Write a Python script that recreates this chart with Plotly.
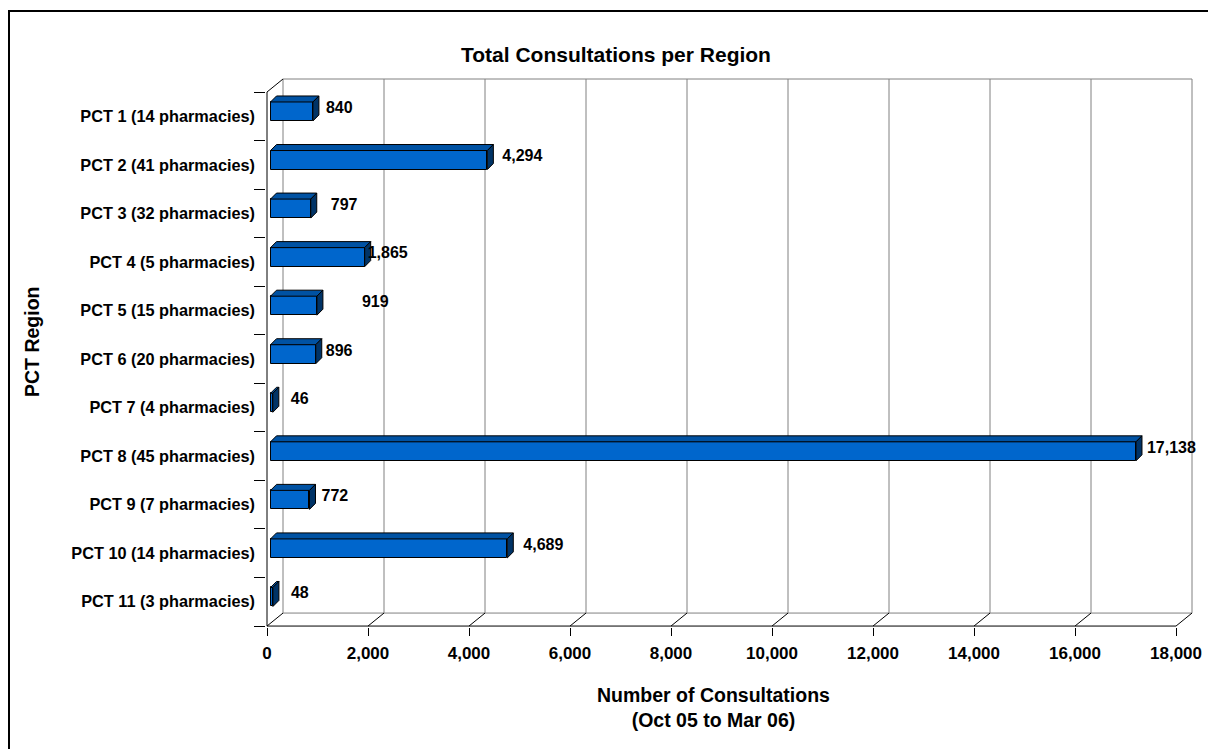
import plotly.graph_objects as go

# ---------------- data ----------------
categories = [
    "PCT 1 (14 pharmacies)", "PCT 2 (41 pharmacies)", "PCT 3 (32 pharmacies)",
    "PCT 4 (5 pharmacies)", "PCT 5 (15 pharmacies)", "PCT 6 (20 pharmacies)",
    "PCT 7 (4 pharmacies)", "PCT 8 (45 pharmacies)", "PCT 9 (7 pharmacies)",
    "PCT 10 (14 pharmacies)", "PCT 11 (3 pharmacies)",
]
consultations = [840, 4294, 797, 1865, 919, 896, 46, 17138, 772, 4689, 48]
x_ticks = [0, 2000, 4000, 6000, 8000, 10000, 12000, 14000, 16000, 18000]
x_tick_labels = ["0", "2,000", "4,000", "6,000", "8,000", "10,000",
                 "12,000", "14,000", "16,000", "18,000"]
chart_title = "Total Consultations per Region"
y_title = "PCT Region"
x_title = "Number of Consultations<br>(Oct 05 to Mar 06)"

# label nudges (pixels to the right of each bar's 3D side face)
label_gap_px = [7, 9, 14, -3, 39, 4, 12, 5, 6, 10, 12]

# ---------------- geometry (pixels) ----------------
OFF = 8                     # page body margin: figure pixel = page pixel - OFF
W, H = 1216 - OFF, 749 - OFF

def P(p):
    return p - OFF

PL, PR, PT, PB = P(266), P(1195), P(77), P(627)
FX0 = P(267)                # pixel of value 0 on the front plane
XMAX = x_ticks[-1]
XPX = 909.0 / XMAX          # px per unit
FY0 = P(92)                 # top of first category on the front plane
CPX = 48.55                 # px per category
NCAT = len(categories)

def ux(p):
    return p / XPX

def uy(p):
    return p / CPX

def vy(py):
    return (py - FY0) / CPX - 0.5

def paper_x(px):
    return (px - PL) / (PR - PL)

def paper_y(py):
    return (PB - py) / (PB - PT)

x_range = [(PL - FX0) / XPX, (PR - FX0) / XPX]
y_range = [vy(PB), vy(PT)]

WDX, WDY = ux(16), uy(13)     # wall depth
BX0 = ux(3.5)                 # bar front-face start
BOFF = uy(4.8)                # bar front face raised from category centre
BH = uy(19)                   # bar thickness
BDX, BDY = ux(6), uy(6)       # bar depth

FONT = "Liberation Sans, Arial, sans-serif"
FRONT_BLUE = "#0066CC"
TOP_BLUE = "#0052A3"
SIDE_BLUE = "#003366"
GRID = "#808080"

fig = go.Figure()

# ---------------- bars ----------------
ypos = list(range(NCAT))
fig.add_trace(go.Bar(
    y=[i - BOFF for i in ypos], x=consultations, base=BX0, width=BH,
    orientation="h",
    marker=dict(color=FRONT_BLUE, line=dict(color="black", width=1)),
    hoverinfo="skip", showlegend=False,
))

top_x, top_y, side_x, side_y = [], [], [], []
for i, v in enumerate(consultations):
    yc = i - BOFF
    yt, yb = yc - BH / 2, yc + BH / 2
    x0, x1 = BX0, BX0 + v
    top_x += [x0, x1, x1 + BDX, x0 + BDX, x0, None]
    top_y += [yt, yt, yt - BDY, yt - BDY, yt, None]
    side_x += [x1, x1, x1 + BDX, x1 + BDX, x1, None]
    side_y += [yt, yb, yb - BDY, yt - BDY, yt, None]

fig.add_trace(go.Scatter(x=top_x, y=top_y, mode="lines", fill="toself",
                         fillcolor=TOP_BLUE, line=dict(color="black", width=1),
                         hoverinfo="skip", showlegend=False))
fig.add_trace(go.Scatter(x=side_x, y=side_y, mode="lines", fill="toself",
                         fillcolor=SIDE_BLUE, line=dict(color="black", width=1),
                         hoverinfo="skip", showlegend=False))

# ---------------- data labels ----------------
lab_x = [BX0 + v + BDX + ux(g) for v, g in zip(consultations, label_gap_px)]
lab_y = [i - uy(7.5) for i in ypos]
fig.add_trace(go.Scatter(
    x=lab_x, y=lab_y, mode="text", text=[f"{v:,}" for v in consultations],
    textposition="middle right", cliponaxis=False,
    textfont=dict(family=FONT, size=16, color="black", weight="bold"),
    hoverinfo="skip", showlegend=False,
))

# ---------------- 3D walls / grid ----------------
shapes = []
def seg(x0, y0, x1, y1, color, width=1):
    shapes.append(dict(type="line", xref="x", yref="y", x0=x0, y0=y0, x1=x1, y1=y1,
                       line=dict(color=color, width=width), layer="below"))

ytop_f, ybot_f = -0.5, NCAT - 0.5
for t in x_ticks:
    seg(t + WDX, ybot_f - WDY, t + WDX, ytop_f - WDY, GRID)
seg(WDX, ytop_f - WDY, XMAX + WDX, ytop_f - WDY, GRID)
seg(WDX, ybot_f - WDY, XMAX + WDX, ybot_f - WDY, GRID)
for t in x_ticks:
    seg(t, ybot_f, t + WDX, ybot_f - WDY, "black")
seg(0, ytop_f, WDX, ytop_f - WDY, "black")
seg(0, ybot_f, XMAX, ybot_f, "black")
seg(0, ytop_f, 0, ybot_f, "black")

# outer chart frame
shapes.append(dict(type="rect", xref="paper", yref="paper",
                   x0=paper_x(P(9)), y0=paper_y(P(11)), x1=paper_x(W + 20), y1=paper_y(H + 20),
                   line=dict(color="black", width=2), fillcolor="rgba(0,0,0,0)",
                   layer="above"))

annotations = [
    dict(text=f"<b>{chart_title}</b>", xref="paper", yref="paper",
         x=paper_x(P(616)), y=paper_y(P(54)), xanchor="center", yanchor="middle",
         showarrow=False, font=dict(family=FONT, size=21, color="black")),
    dict(text=f"<b>{y_title}</b>", xref="paper", yref="paper",
         x=paper_x(P(32)), y=paper_y(P(342)), xanchor="center", yanchor="middle",
         textangle=-90, showarrow=False, font=dict(family=FONT, size=19.5, color="black")),
    dict(text=f"<b>{x_title}</b>", xref="paper", yref="paper",
         x=paper_x(P(713)), y=paper_y(P(707)), xanchor="center", yanchor="middle",
         showarrow=False, font=dict(family=FONT, size=19.5, color="black")),
]

fig.update_layout(
    width=W, height=H, autosize=False,
    margin=dict(l=PL, r=W - PR, t=PT, b=H - PB, pad=0),
    paper_bgcolor="white", plot_bgcolor="white",
    shapes=shapes, annotations=annotations, bargap=0,
    xaxis=dict(range=x_range, tickmode="array", tickvals=x_ticks, ticktext=x_tick_labels,
               ticks="outside", ticklen=8, tickcolor="black", tickwidth=1,
               ticklabelstandoff=3,
               showgrid=False, zeroline=False, showline=False,
               tickfont=dict(family=FONT, size=17, color="black", weight="bold")),
    yaxis=dict(range=y_range, tickmode="array", tickvals=ypos, ticktext=categories,
               ticks="", showgrid=False, zeroline=False, showline=False,
               ticklabelstandoff=10,
               minor=dict(tickmode="array", tickvals=[i - 0.5 for i in range(NCAT + 1)],
                          ticks="outside", ticklen=11, tickcolor="black", tickwidth=1,
                          showgrid=False),
               tickfont=dict(family=FONT, size=16.3, color="black", weight="bold")),
)

fig.write_html("out.html")
